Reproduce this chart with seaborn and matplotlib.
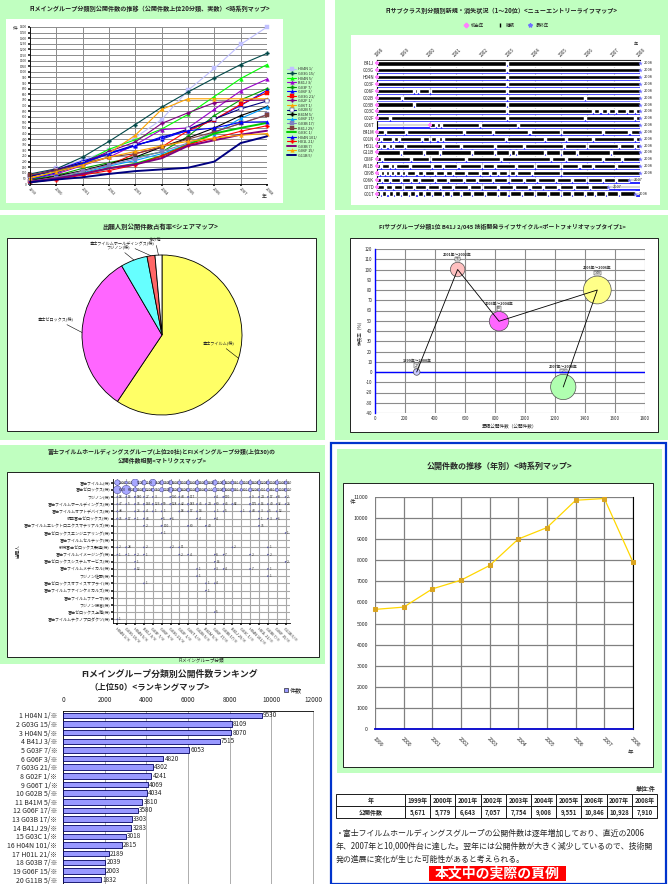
import matplotlib
matplotlib.use("Agg")
import matplotlib.pyplot as plt
from matplotlib.patches import Rectangle, Patch
from matplotlib.lines import Line2D
import numpy as np
import pandas as pd
import seaborn as sns

# ---------------------------------------------------------------- data
years = list(range(1999, 2009))
fi_groups = ["H04N 1/", "G03G 15/", "H04N 5/", "B41J 3/", "G03F 7/", "G06F 3/",
             "G03G 21/", "G02F 1/", "G06T 1/", "G02B 5/", "B41M 5/", "G06F 17/",
             "G03B 17/", "B41J 29/", "G03C 1/", "H04N 101/", "H01L 21/", "G03B 7/",
             "G06F 15/", "G11B 5/"]

# panel 1: time series of top-20 groups
trend_01 = [75, 140, 215, 300, 415, 575, 835, 1030, 1245, 1400]
trend_02 = [90, 135, 240, 380, 530, 685, 820, 945, 1065, 1165]
trend_03 = [50, 110, 190, 310, 395, 490, 620, 780, 940, 1065]
trend_04 = [40, 90, 165, 240, 350, 485, 500, 665, 830, 935]
trend_05 = [40, 75, 140, 190, 240, 285, 425, 610, 750, 850]
trend_06 = [65, 125, 205, 275, 350, 400, 480, 575, 700, 835]
trend_07 = [25, 65, 115, 170, 270, 330, 475, 575, 710, 815]
trend_08 = [75, 130, 190, 290, 375, 540, 635, 725, 745, 750]
trend_09 = [60, 100, 170, 275, 435, 665, 760, 760, 760, 760]
trend_10 = [70, 125, 190, 270, 345, 410, 490, 580, 670, 740]
trend_11 = [30, 70, 120, 180, 240, 330, 410, 500, 610, 690]
trend_12 = [20, 50, 100, 160, 210, 270, 355, 450, 585, 685]
trend_13 = [25, 60, 115, 170, 225, 290, 365, 465, 540, 620]
trend_14 = [80, 120, 180, 240, 270, 330, 400, 465, 540, 615]
trend_15 = [15, 50, 90, 140, 180, 250, 350, 450, 500, 545]
trend_16 = [45, 100, 185, 270, 340, 420, 475, 500, 550, 555]
trend_17 = [15, 40, 80, 120, 170, 250, 350, 410, 470, 520]
trend_18 = [20, 50, 90, 140, 175, 230, 340, 390, 440, 475]
trend_19 = [50, 110, 170, 240, 290, 340, 380, 410, 435, 450]
trend_20 = [15, 40, 60, 90, 115, 130, 145, 200, 365, 425]
trend_series = [trend_01, trend_02, trend_03, trend_04, trend_05, trend_06, trend_07,
                trend_08, trend_09, trend_10, trend_11, trend_12, trend_13, trend_14,
                trend_15, trend_16, trend_17, trend_18, trend_19, trend_20]

# panel 2: new-entry life map
life_years = [str(y) for y in range(1998, 2009)]
life_rows = ["B41J", "G03G", "H04N", "G03F", "G06F", "G02B", "G03B", "G03C", "G02F", "G06T",
             "B41M", "G01N", "H01L", "G11B", "C08F", "A61B", "C09B", "G06K", "C07D", "G01T"]
life_start = [0, 0, 0, 0, 0, 0, 0, 0, 0, 2.0, 0, 0, 0, 0, 0, 0, 0, 0, 0, 0]
life_end = [10, 10, 10, 10, 10, 10, 10, 10, 10, 10, 10, 10, 10, 10, 10, 10, 10, 9.6, 8.8, 9.8]
life_last = ["2008"] * 17 + ["2007", "2007", "2008"]
life_gaps = [
    [4.95], [4.95], [4.95], [4.95],
    [1.4, 1.55, 2.0, 4.95],
    [0.95, 4.95, 7.9],
    [1.4, 4.95],
    [4.95, 8.2, 8.5, 8.8, 9.1, 9.5, 9.8],
    [0.5, 4.95, 7.9, 9.8],
    [2.25, 2.45, 3.9, 5.35],
    [0.3, 1.1, 3.3, 4.4, 5.8, 7.0, 8.6, 9.6],
    [0.15, 0.6, 0.85, 1.7, 2.0, 2.3, 2.5, 4.9, 6.4, 7.2, 8.2, 9.8],
    [0.15, 0.4, 0.6, 1.05, 2.5, 3.2, 4.5, 5.6, 7.1, 8.0, 9.2, 9.8],
    [0.9, 1.8, 2.4, 3.6, 4.5, 5.05, 5.3, 6.4, 7.0, 7.6, 8.9],
    [0.2, 1.3, 2.0, 3.4, 4.7, 6.6, 7.2, 8.6, 9.3],
    [0.15, 0.5, 0.7, 1.25, 2.1, 2.5, 3.1, 4.0, 4.5, 5.3, 6.0, 7.0, 7.7, 8.2, 9.1],
    [0.1, 0.3, 0.5, 0.7, 0.9, 1.1, 1.5, 1.8, 2.2, 2.6, 2.9, 3.4, 3.9, 4.3, 4.6, 5.0, 5.3, 5.9, 7.0],
    [0.2, 0.5, 0.9, 1.3, 1.6, 2.2, 2.7, 3.3, 3.8, 4.4, 5.0, 5.6, 6.1, 6.8, 7.4, 8.0, 8.6, 9.1],
    [0.3, 0.6, 1.0, 1.4, 1.9, 2.4, 2.9, 3.5, 4.0, 4.6, 5.2, 5.8, 6.3, 6.9, 7.5, 8.1],
    [0.15, 0.4, 0.65, 0.9, 1.2, 1.5, 1.8, 2.1, 2.5, 2.8, 3.2, 3.6, 4.1, 4.6, 5.0, 5.5, 6.0, 6.5,
     7.0, 7.4, 7.9, 8.3, 8.7, 9.2],
]

# panel 3: share pie
pie_labels = ["富士フイルム(株)", "富士ゼロックス(株)", "フジノン(株)",
              "富士フイルムホールディングス(株)", "その他"]
pie_shares = [59.4, 32.2, 5.4, 1.6, 1.4]

# panel 4: life-cycle bubble chart
bub_periods = ["1999年～2000年", "2001年～2002年", "2003年～2004年", "2005年～2006年", "2007年～2008年"]
bub_x = [278, 551, 827, 1482, 1255]
bub_y = [0, 100, 49.5, 80, -14.6]
bub_n = [27, 55, 83, 148, 126]

# panel 5: applicant x FI group matrix
applicants = ["富士フイルム(株)", "富士ゼロックス(株)", "フジノン(株)",
              "富士フイルムホールディングス(株)", "富士フイルムオプトデバイス(株)",
              "鈴鹿富士ゼロックス(株)", "富士フイルムエレクトロニクスマテリアルズ(株)",
              "富士ゼロックスエンジニアリング(株)", "富士フイルムセルテック(株)",
              "新潟富士ゼロックス製造(株)", "富士フイルムイメージング(株)",
              "富士ゼロックスシステムサービス(株)", "富士フイルムメディカル(株)",
              "フジノン佐野(株)", "富士ゼロックスオフィスサプライ(株)",
              "富士フイルムファインケミカルズ(株)", "富士フイルムファーマ(株)",
              "フジノン鎌倉(株)", "富士ゼロックス上海(株)", "富士フイルムテクノプロダクツ(株)"]
matrix_fujifilm = [2900, 600, 5200, 2100, 4600, 1500, 1600, 1000, 1300, 1500,
                   1600, 2500, 1400, 900, 1100, 1400, 1200, 1000, 1300, 900]
matrix_xerox = [6000, 8000, 1500, 1200, 900, 1700, 2300, 1400, 1000, 1500,
                700, 1700, 1300, 900, 600, 1200, 500, 800, 1000, 700]
matrix_others = [
    {0: 18, 1: 16, 2: 180, 3: 27, 4: 3, 6: 130, 7: 43, 8: 117, 11: 4, 12: 170, 15: 9, 16: 24, 17: 17, 18: 8, 19: 2},
    {0: 47, 1: 5, 2: 76, 3: 145, 4: 123, 5: 59, 6: 128, 7: 42, 8: 183, 9: 45, 10: 24, 11: 60, 12: 45, 13: 82, 15: 175, 16: 16, 17: 40, 18: 32, 19: 26},
    {0: 48, 2: 26, 3: 4, 4: 1, 5: 1, 7: 18, 8: 17, 9: 14, 11: 1, 12: 5, 14: 1, 15: 43, 16: 3, 17: 5, 18: 12},
    {0: 75, 1: 17, 2: 1, 3: 46, 5: 5, 6: 6, 9: 4, 11: 4, 16: 1, 17: 3, 18: 6},
    {3: 2, 5: 100, 8: 60, 10: 40, 16: 35},
    {5: 1, 19: 1},
    {},
    {0: 2, 1: 28, 3: 2, 6: 2, 7: 11, 13: 2, 17: 1},
    {0: 1, 1: 1, 2: 2, 3: 1, 7: 2, 8: 4, 11: 8, 12: 7, 15: 2, 17: 2},
    {2: 1, 11: 16, 19: 2},
    {2: 12, 9: 1, 11: 3, 12: 4, 15: 7, 17: 1},
    {9: 1, 17: 1},
    {3: 1, 10: 1, 11: 4},
    {10: 1},
    {},
    {},
    {11: 5},
    {0: 1},
]

# panel 6: ranking
rank_counts = [9530, 8109, 8070, 7515, 6053, 4820, 4302, 4241, 4069, 4034,
               3810, 3580, 3303, 3283, 3018, 2815, 2189, 2039, 2003, 1832]

# panel 7: annual counts
annual_counts = [5671, 5779, 6643, 7057, 7754, 9008, 9551, 10846, 10928, 7910]

# ---------------------------------------------------------------- setup
sns.set_theme(style="white")
plt.rcParams['font.family'] = ['Noto Sans CJK JP', 'DejaVu Sans']
plt.rcParams['axes.unicode_minus'] = False
plt.rcParams['axes.linewidth'] = 0.6
plt.rcParams['xtick.major.size'] = 1.5
plt.rcParams['ytick.major.size'] = 1.5
plt.rcParams['xtick.major.pad'] = 1
plt.rcParams['ytick.major.pad'] = 1
plt.rcParams['axes.edgecolor'] = 'black'

W, H = 668, 884
fig = plt.figure(figsize=(W / 100, H / 100), dpi=100)
fig.patch.set_facecolor('white')
GREEN = '#C0FFC0'


def rect(x0, y0, x1, y1):
    return [x0 / W, 1 - y1 / H, (x1 - x0) / W, (y1 - y0) / H]


def box(x0, y0, x1, y1, fc, ec='none', lw=0, z=-5, fill=True):
    fig.add_artist(Rectangle((x0 / W, 1 - y1 / H), (x1 - x0) / W, (y1 - y0) / H,
                             transform=fig.transFigure, facecolor=fc, edgecolor=ec,
                             linewidth=lw, zorder=z, fill=fill))


def ftext(x, y, s, **kw):
    kw.setdefault('ha', 'center')
    kw.setdefault('va', 'center')
    fig.text(x / W, 1 - y / H, s, **kw)


# ---------------------------------------------------------------- panel 1
box(0, 0, 325, 210, GREEN, z=-6)
box(6, 19, 283, 203, 'white', z=-5)
ftext(150, 9, "FIメイングループ分類別公開件数の推移（公開件数上位20分類、実数）<時系列マップ>",
      fontsize=4.4, weight='bold')
ax1 = fig.add_axes(rect(30, 27, 267, 184))
trend_colors = ['#C0C0FF', '#004848', '#00FF00', '#9900CC', '#00A000', '#0000FF', '#FF0000',
                '#800080', '#FFA500', '#000080', '#000000', '#00A0FF', '#8080C0', '#804040',
                '#00CC00', '#0000FF', '#FF0000', '#800080', '#FFA500', '#000080']
trend_markers = ['s', 'P', '^', '^', 'P', '^', 's', 'P', '^', 's', 'P', '^', 's', 's',
                 None, '^', 'P', None, '^', None]
for vals, col, mk, lab, i in zip(trend_series, trend_colors, trend_markers, fi_groups, range(20)):
    lw = 1.4 if mk is None else 0.8
    sns.lineplot(x=years, y=vals, ax=ax1, color=col, marker=mk, markersize=2.6,
                 markeredgecolor=col, markeredgewidth=0.3, linewidth=lw, label=lab,
                 markerfacecolor=('white' if i == 9 else col), clip_on=False)
handles, labels = ax1.get_legend_handles_labels()
if ax1.get_legend() is not None:
    ax1.get_legend().remove()
fig.legend(handles, labels, loc='upper left', bbox_to_anchor=(287 / W, 1 - 67 / H),
           fontsize=2.8, frameon=False, handlelength=2.4, labelspacing=0.14,
           handletextpad=0.4, borderpad=0, borderaxespad=0)
ax1.set_xlim(1999, 2008)
ax1.set_ylim(0, 1400)
ax1.set_yticks(range(0, 1401, 50))
ax1.set_yticklabels([str(v) for v in range(0, 1401, 50)], fontsize=2.3)
ax1.set_xticks(years)
ax1.set_xticklabels([str(y) for y in years], fontsize=3, rotation=-45, ha='left',
                    rotation_mode='anchor')
ax1.grid(True, color='#8C8C8C', lw=0.7)
ax1.set_axisbelow(True)
ax1.tick_params(left=True, bottom=True, length=1.2)
for s in ['top', 'right']:
    ax1.spines[s].set_visible(False)
ax1.set_xlabel('')
ax1.set_ylabel('')
ftext(15, 28, "件", fontsize=3.5)
ftext(264, 197, "年", fontsize=3.5)

# ---------------------------------------------------------------- panel 2
box(335, 0, 668, 210, GREEN, z=-6)
box(351, 35, 660, 205, 'white', z=-5)
ftext(502, 11, "FIサブクラス別分類別新規・消失状況（1～20位）<ニューエントリーライフマップ>",
      fontsize=4.4, weight='bold')
leg_h = [Line2D([], [], marker='P', color='#FF80FF', ls='none', ms=3),
         Line2D([], [], marker='|', color='black', ls='none', ms=3),
         Line2D([], [], marker='*', color='#7070FF', ls='none', ms=3)]
fig.legend(leg_h, ["初出年", "継続", "最終年"], loc='center', ncol=3,
           bbox_to_anchor=(505 / W, 1 - 25 / H), fontsize=3.2, frameon=False,
           handletextpad=0.3, columnspacing=2.5)
ax2 = fig.add_axes(rect(377, 60, 640, 197))
n_rows = len(life_rows)
for i in range(n_rows):
    s, e = life_start[i], life_end[i]
    lefts, widths = [], []
    cur = s
    for g in sorted(life_gaps[i]):
        if g - 0.04 > cur:
            lefts.append(cur)
            widths.append(g - 0.04 - cur)
        cur = g + 0.04
    if e > cur:
        lefts.append(cur)
        widths.append(e - cur)
    ax2.plot([0, 10], [i + 0.42, i + 0.42], color='#0000FF', lw=1.2, zorder=2)
    if s > 0:
        ax2.plot([0, s], [i, i], color='#D8D8D8', lw=1.5, zorder=2)
    if e < 10:
        ax2.plot([e, 10], [i, i], color='#D8D8D8', lw=1.5, zorder=2)
    ax2.barh([i] * len(lefts), widths, left=lefts, height=0.62, color='black', zorder=3)
sns.scatterplot(x=life_start, y=list(range(n_rows)), marker='P', color='#FF80FF', s=10,
                linewidth=0, ax=ax2, zorder=5, clip_on=False)
sns.scatterplot(x=life_end, y=list(range(n_rows)), marker='*', color='#7070FF', s=12,
                linewidth=0, ax=ax2, zorder=5, clip_on=False)
for i, lab in enumerate(life_last):
    ax2.text(life_end[i] + 0.15, i, lab, fontsize=2.8, va='center', ha='left')
ax2.set_xlim(0, 10)
ax2.set_ylim(n_rows - 0.5, -0.5)
ax2.xaxis.tick_top()
ax2.set_xticks(range(11))
ax2.set_xticklabels(life_years, fontsize=3.2, rotation=45, ha='left', rotation_mode='anchor')
ax2.set_yticks(range(n_rows))
ax2.set_yticklabels(life_rows, fontsize=3.2)
ax2.tick_params(length=0, pad=2)
ax2.xaxis.grid(True, color='#C8C8C8', lw=0.8)
ax2.set_axisbelow(True)
for s in ['bottom', 'right']:
    ax2.spines[s].set_visible(False)
ax2.spines['top'].set_linewidth(0.8)
ax2.spines['left'].set_linewidth(0.8)
ftext(636, 44, "年", fontsize=3)

# ---------------------------------------------------------------- panel 3
box(0, 215, 325, 440, GREEN, z=-6)
box(7, 238, 316, 431, 'white', ec='black', lw=0.6, z=-5)
ftext(160, 226, "出願人別公開件数占有率<シェアマップ>", fontsize=4.6, weight='bold')
ax3 = fig.add_axes(rect(62, 235, 262, 435))
pie_colors = ['#FFFF66', '#FF66FF', '#66FFFF', '#FF6666', '#FFFFFF']
wedges, _ = ax3.pie(pie_shares, colors=pie_colors, startangle=90, counterclock=False,
                    wedgeprops=dict(edgecolor='black', linewidth=0.6))
ax3.set_xlim(-1.25, 1.25)
ax3.set_ylim(-1.25, 1.25)
ax3.set_aspect('equal')
pie_text_pos = [(203, 343), (38, 319), (106, 247), (90, 243), (149, 240)]
for w, lab, (tx, ty) in zip(wedges, pie_labels, pie_text_pos):
    t = np.deg2rad((w.theta1 + w.theta2) / 2)
    ax3.annotate(lab, xy=(np.cos(t), np.sin(t)), xycoords='data',
                 xytext=(tx, H - ty), textcoords='figure pixels', fontsize=3.0,
                 ha='left', va='center',
                 arrowprops=dict(arrowstyle='-', color='black', lw=0.4, shrinkA=0, shrinkB=0))

# ---------------------------------------------------------------- panel 4
box(335, 215, 668, 440, GREEN, z=-6)
box(350, 238, 658, 432, 'white', ec='black', lw=0.6, z=-5)
ftext(502, 227, "FIサブグループ分類1位 B41J 2/045 技術開発ライフサイクル<ポートフォリオマップタイプ1>",
      fontsize=4.2, weight='bold')
ax4 = fig.add_axes(rect(375, 249, 645, 413))
df4 = pd.DataFrame(dict(x=bub_x, y=bub_y, n=bub_n, period=bub_periods))
bub_colors = ['#C8C8FF', '#FFC0C0', '#FF66FF', '#FFFF88', '#B0FFB0']
sns.lineplot(data=df4, x='x', y='y', sort=False, color='black', lw=0.6, ax=ax4,
             zorder=5, estimator=None)
smin, smax = 22, 400
sns.scatterplot(data=df4, x='x', y='y', hue='period', palette=bub_colors, size='n',
                sizes=(smin, smax), ax=ax4, edgecolor='#505050', linewidth=0.5,
                legend=False, zorder=4)
nmin, nmax = min(bub_n), max(bub_n)
for xv, yv, nv, per in zip(bub_x, bub_y, bub_n, bub_periods):
    sz = smin + (nv - nmin) / (nmax - nmin) * (smax - smin)
    r = np.sqrt(sz) / 2
    ax4.annotate(per, (xv, yv), xytext=(0, r + 5.5), textcoords='offset points',
                 fontsize=2.7, ha='center', va='center', weight='bold')
    ax4.annotate(str(nv), (xv, yv), xytext=(0, r + 2.3), textcoords='offset points',
                 fontsize=2.6, ha='center', va='center',
                 bbox=dict(boxstyle='square,pad=0.1', fc='white', ec='black', lw=0.3))
ax4.set_xlim(0, 1800)
ax4.set_ylim(-40, 120)
ax4.set_xticks(range(0, 1801, 200))
ax4.set_xticklabels([str(v) for v in range(0, 1801, 200)], fontsize=3.2)
ax4.set_yticks(range(-40, 121, 10))
ax4.set_yticklabels([str(v) for v in range(-40, 121, 10)], fontsize=3.2)
ax4.grid(True, color='#8C8C8C', lw=0.8)
ax4.set_axisbelow(True)
ax4.axhline(0, color='#0000FF', lw=1.0, zorder=3)
for s in ['top', 'right', 'bottom']:
    ax4.spines[s].set_visible(False)
ax4.spines['left'].set_color('#0000FF')
ax4.spines['left'].set_linewidth(1.0)
ax4.tick_params(length=0, pad=2)
ax4.set_xlabel("累積公開件数（公開件数）", fontsize=3.3, labelpad=2)
ax4.set_ylabel("伸長率（%）", fontsize=3.3, labelpad=2)

# ---------------------------------------------------------------- panel 5
box(0, 445, 325, 664, GREEN, z=-6)
box(7, 472, 319, 657, 'white', ec='black', lw=0.6, z=-5)
ftext(162, 452, "富士フイルムホールディングスグループ(上位20社)とFIメイングループ分類(上位30)の",
      fontsize=4.2, weight='bold')
ftext(162, 461, "公開件数相関<マトリクスマップ>", fontsize=4.2, weight='bold')
ax5 = fig.add_axes(rect(113, 479, 290, 623))
mx, my, mv = [], [], []
for c, v in enumerate(matrix_fujifilm):
    mx.append(c); my.append(0); mv.append(v)
for c, v in enumerate(matrix_xerox):
    mx.append(c); my.append(1); mv.append(v)
for r, row in enumerate(matrix_others):
    for c, v in row.items():
        mx.append(c); my.append(r + 2); mv.append(v)
df5 = pd.DataFrame(dict(x=mx, y=my, v=mv))
sns.scatterplot(data=df5, x='x', y='y', size='v', sizes=(0.6, 42), size_norm=(0, 8000),
                color='#A8A8FF', edgecolor='#303080', linewidth=0.3, legend=False,
                ax=ax5, zorder=4)
for xv, yv, vv in zip(mx, my, mv):
    ax5.text(xv + 0.18, yv, str(vv), fontsize=2.3, va='center', ha='left', zorder=5)
ax5.set_xlim(-0.5, 19.5)
ax5.set_ylim(len(applicants) - 0.5, -0.5)
ax5.set_xticks(range(20))
ax5.set_xticklabels([g + "※" for g in fi_groups], fontsize=2.8, rotation=-45, ha='left',
                    rotation_mode='anchor')
ax5.set_yticks(range(len(applicants)))
ax5.set_yticklabels(applicants, fontsize=2.9)
ax5.grid(True, color='#A8A8A8', lw=0.8)
ax5.set_axisbelow(True)
for s in ['top', 'right']:
    ax5.spines[s].set_visible(False)
ax5.tick_params(left=True, bottom=True, length=1.2)
ax5.set_xlabel("FIメイングループ分類", fontsize=3.3, labelpad=9)
ax5.set_ylabel("出願人", fontsize=3.3, labelpad=2)

# ---------------------------------------------------------------- panel 6
ftext(170, 674, "FIメイングループ分類別公開件数ランキング", fontsize=6.4, weight='bold')
ftext(150, 687, "（上位50）<ランキングマップ>", fontsize=6.0, weight='bold')
fig.legend([Patch(facecolor='#9999FF', edgecolor='black', lw=0.4)], ["件数"], loc='center',
           bbox_to_anchor=(293 / W, 1 - 690 / H), fontsize=4.4, frameon=False,
           handlelength=0.7, handleheight=0.7, handletextpad=0.2)
ax6 = fig.add_axes(rect(63, 711, 313, 884))
rank_labels = [f"{i + 1} {c}※" for i, c in enumerate(fi_groups)]
sns.barplot(x=rank_counts, y=rank_labels, orient='h', color='#9999FF', edgecolor='#000060',
            linewidth=0.6, width=0.64, ax=ax6, saturation=1, zorder=3)
for i, v in enumerate(rank_counts):
    ax6.text(v + 60, i, str(v), fontsize=4.6, va='center', ha='left', zorder=4)
ax6.set_xlim(0, 12000)
ax6.set_ylim(len(rank_counts) - 0.5, -0.5)
ax6.xaxis.tick_top()
ax6.set_xticks(range(0, 12001, 2000))
ax6.set_xticklabels([str(v) for v in range(0, 12001, 2000)], fontsize=4.6)
ax6.tick_params(axis='y', labelsize=5.0, length=0, pad=4)
ax6.tick_params(axis='x', length=0, pad=5)
ax6.xaxis.grid(True, color='#A0A0A0', lw=0.6)
ax6.set_axisbelow(True)
ax6.spines['bottom'].set_visible(False)
ax6.spines['right'].set_color('#A0A0A0')
ax6.set_xlabel('')
ax6.set_ylabel('')

# ---------------------------------------------------------------- panel 7
box(331, 443, 666, 884, 'none', ec='#0033CC', lw=1.6, z=10, fill=False)
box(337, 449, 662, 773, GREEN, z=-6)
box(343, 483, 653, 767, 'white', ec='black', lw=0.6, z=-5)
ftext(500, 466, "公開件数の推移（年別）<時系列マップ>", fontsize=5.8, weight='bold')
ax7 = fig.add_axes(rect(375, 497, 633, 729))
sns.lineplot(x=years, y=annual_counts, ax=ax7, color='#FFD700', lw=0.9, marker='s',
             markersize=3, markerfacecolor='#DAA520', markeredgecolor='#DAA520',
             clip_on=False, zorder=4)
ax7.set_xlim(1999, 2008)
ax7.set_ylim(0, 11000)
ax7.set_yticks(range(0, 11001, 1000))
ax7.set_yticklabels([str(v) for v in range(0, 11001, 1000)], fontsize=3.8)
ax7.set_xticks(years)
ax7.set_xticklabels([str(y) for y in years], fontsize=3.8, rotation=-45, ha='left',
                    rotation_mode='anchor')
ax7.grid(True, color='#808080', lw=0.9)
ax7.set_axisbelow(True)
ax7.spines['left'].set_visible(False)
ax7.spines['top'].set_visible(False)
ax7.spines['bottom'].set_color('#0000CC')
ax7.spines['bottom'].set_linewidth(1.3)
ax7.spines['right'].set_linewidth(0.8)
ax7.tick_params(length=0, pad=5)
ftext(353, 502, "件", fontsize=4)
ftext(630, 752, "年", fontsize=4)

# table
ftext(656, 788, "単位:件", fontsize=4.3, ha='right', weight='bold')
axt = fig.add_axes(rect(336, 794, 657, 818))
axt.axis('off')
cell_text = [["年"] + [f"{y}年" for y in years],
             ["公開件数"] + [f"{v:,}" for v in annual_counts]]
tbl = axt.table(cellText=cell_text, cellLoc='center', bbox=[0, 0, 1, 1],
                colWidths=[0.215] + [0.0785] * 10)
tbl.auto_set_font_size(False)
tbl.set_fontsize(4.3)
for (r, c), cell in tbl.get_celld().items():
    cell.set_linewidth(0.7)
    cell.get_text().set_fontweight('bold')
    if r == 1 and c > 0:
        cell._loc = 'right'
        cell.PAD = 0.05

# comment text
ftext(336, 833, "・富士フイルムホールディングスグループの公開件数は逐年増加しており、直近の2006",
      fontsize=5.7, ha='left')
ftext(336, 846, "年、2007年と10,000件台に達した。翌年には公開件数が大きく減少しているので、技術開",
      fontsize=5.7, ha='left')
ftext(336, 859, "発の進展に変化が生じた可能性があると考えられる。", fontsize=5.7, ha='left')
box(429, 866, 566, 881, '#FF0000', z=8)
fig.text(497.5 / W, 1 - 873.5 / H, "本文中の実際の頁例", fontsize=10, color='white',
         ha='center', va='center', weight='bold', zorder=9)

fig.savefig("out.png", dpi=100, facecolor='white')
